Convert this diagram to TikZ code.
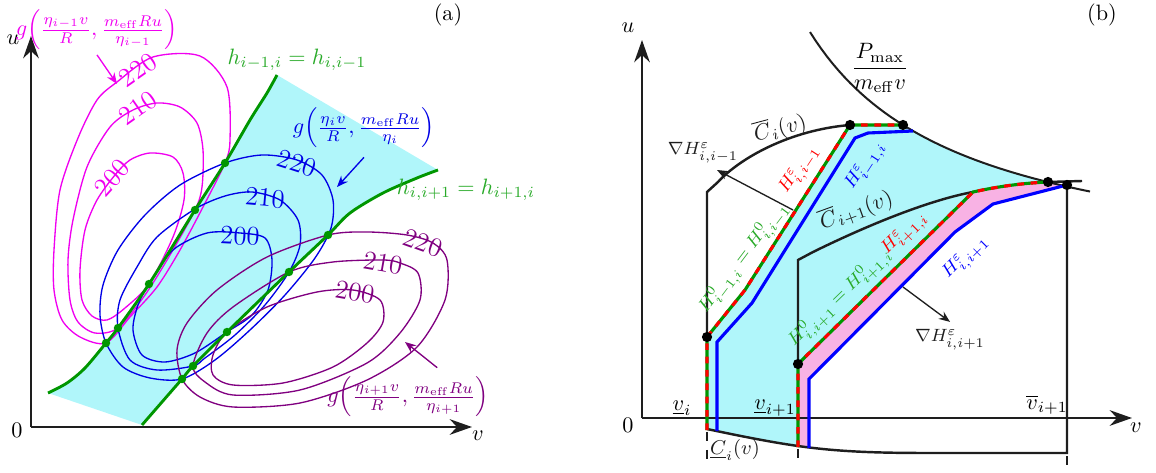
\documentclass[tikz,border=0pt]{standalone}
\usepackage{amsmath,amssymb}
\usepackage{xcolor}
\usepackage{tikz}
\usetikzlibrary{arrows.meta,positioning}
\definecolor{regcyan}{RGB}{176,246,250}
\definecolor{regpink}{RGB}{248,178,228}
\definecolor{hgreen}{RGB}{0,150,0}
\definecolor{lblgreen}{RGB}{40,170,40}
\definecolor{gmag}{RGB}{240,0,240}
\definecolor{gblue}{RGB}{0,0,230}
\definecolor{gpurp}{RGB}{128,0,128}
\definecolor{axgray}{RGB}{30,30,30}

\begin{document}
\begin{tikzpicture}[
  x=0.45pt, y=-0.45pt,
  axis/.style={-{Stealth[length=10pt,width=7pt]}, line width=1.2pt, draw=axgray},
  contour/.style={line width=0.6pt},
  hcurve/.style={draw=hgreen, line width=1.3pt},
  gdot/.style={circle, fill=hgreen, inner sep=0pt, minimum size=3.8pt},
  bdot/.style={circle, fill=black, inner sep=0pt, minimum size=4.6pt},
  annot/.style={-{Stealth[length=5pt,width=4pt]}, line width=0.6pt},
  bound/.style={draw=axgray, line width=1.1pt},
  hzero/.style={draw=hgreen, line width=1.4pt,
                postaction={draw=red, dash pattern=on 3pt off 3pt}},
  heps/.style={draw=blue, line width=1.4pt},
  lvl/.style={font=\large, inner sep=0pt},
  hlbl/.style={font=\footnotesize, inner sep=0pt},
  gradlbl/.style={font=\footnotesize, text=axgray},
  glbl/.style={inner sep=0pt}
]
\useasboundingbox (0,0) rectangle (1156,473);

% ---- panel (a)
\fill[regcyan] plot[smooth] coordinates {(48,393) (67,383) (85,368) (106,343) (118,328) (149,284) (195,210) (225,163) (250,120) (267,93) (277,75)}
  -- plot[smooth] coordinates {(438,170) (417,178) (383,193) (350,213) (328,235) (289,272) (227,332) (193,366) (182,379) (162,402) (142,425)} -- cycle;

\draw[contour, gmag] plot[smooth cycle] coordinates {(117,82) (153,57) (200,56) (227,87) (230,140) (225,163) (203,207) (180,250) (157,287) (130,317) (106,343) (80,337) (62,320) (54,290) (54,250) (60,190) (78,138) (97,100)};
\draw[contour, gmag] plot[smooth cycle] coordinates {(195,210) (170,255) (145,295) (118,328) (95,333) (78,322) (70,300) (68,260) (73,220) (87,167) (110,127) (133,110) (157,103) (180,107) (197,123) (203,150) (202,187)};
\draw[contour, gmag] plot[smooth cycle] coordinates {(150,153) (173,157) (183,173) (184,200) (173,237) (149,284) (125,308) (107,320) (92,316) (82,300) (80,270) (85,230) (97,200) (115,175) (130,160)};

\draw[contour, gblue] plot[smooth cycle] coordinates {(225,163) (262,155) (297,160) (322,175) (333,200) (331,228) (315,258) (285,295) (250,330) (215,360) (182,379) (150,378) (123,367) (106,343) (100,315) (103,285) (118,250) (145,215) (180,185)};
\draw[contour, gblue] plot[smooth cycle] coordinates {(195,209) (225,196) (252,192) (280,200) (298,220) (300,245) (289,272) (265,305) (235,335) (205,358) (193,366) (157,370) (130,360) (118,328) (120,300) (137,267) (157,237)};
\draw[contour, gblue] plot[smooth cycle] coordinates {(149,284) (173,250) (207,233) (240,233) (265,238) (272,260) (268,290) (252,315) (227,332) (195,353) (165,362) (142,355) (133,330) (138,305)};

\draw[contour, gpurp] plot[smooth cycle] coordinates {(182,379) (200,397) (233,407) (300,403) (367,380) (417,347) (445,300) (447,260) (433,243) (407,235) (367,232) (328,235) (267,257) (217,290) (187,323) (177,350)};
\draw[contour, gpurp] plot[smooth cycle] coordinates {(193,366) (205,382) (233,395) (300,390) (367,363) (400,333) (420,300) (418,273) (400,263) (383,260) (333,262) (289,272) (233,307) (207,333)};
\draw[contour, gpurp] plot[smooth cycle] coordinates {(227,332) (267,307) (317,292) (353,290) (380,300) (383,322) (367,343) (333,367) (283,383) (233,385) (213,375) (213,355)};

\node[lvl, text=gmag, rotate=35] (m220) at (138,70) {220};
\node[lvl, text=gmag, rotate=35] (m210) at (138,108) {210};
\node[lvl, text=gmag, rotate=48] (m200) at (112,178) {200};
\node[lvl, text=gblue, rotate=-18] (b220) at (297,163) {220};
\node[lvl, text=gblue, rotate=-5] (b210) at (265,198) {210};
\node[lvl, text=gblue, rotate=-3] (b200) at (240,236) {200};
\node[lvl, text=gpurp, rotate=-20] (p220) at (423,243) {220};
\node[lvl, text=gpurp, rotate=-10] (p210) at (383,263) {210};
\node[lvl, text=gpurp, rotate=-10] (p200) at (355,292) {200};

\draw[hcurve] plot[smooth] coordinates {(48,393) (67,383) (85,368) (106,343) (118,328) (149,284) (195,210) (225,163) (250,120) (267,93) (277,75)};
\draw[hcurve] plot[smooth] coordinates {(142,425) (162,402) (182,379) (193,366) (227,332) (289,272) (328,235) (350,213) (383,193) (417,178) (438,170)};

\node[gdot] (l1) at (106,343) {};
\node[gdot] (l2) at (118,328) {};
\node[gdot] (l3) at (149,284) {};
\node[gdot] (l4) at (195,210) {};
\node[gdot] (l5) at (225,163) {};
\node[gdot] (r1) at (182,379) {};
\node[gdot] (r2) at (193,366) {};
\node[gdot] (r3) at (227,332) {};
\node[gdot] (r4) at (289,272) {};
\node[gdot] (r5) at (328,235) {};

\coordinate (Oa) at (31,427);
\coordinate (ua) at (31,36);
\coordinate (va) at (472,427);
\draw[axis] (Oa) -- (ua);
\draw[axis] (Oa) -- (va);
\node (ulbla) at (13,40) {$u$};
\node (vlbla) at (478,436) {$v$};
\node (zeroa) at (17,430) {$0$};
\node (taga) at (448,15) {(a)};

\node[text=lblgreen] (hleft) at (297,60) {$h_{i-1,i}=h_{i,i-1}$};
\node[text=lblgreen] (hright) at (466,190) {$h_{i,i+1}=h_{i+1,i}$};

\node[glbl, text=gmag] (gm) at (97,30) {$g\Bigl(\frac{\eta_{i-1}v}{R},\frac{m_{\mathrm{eff}}Ru}{\eta_{i-1}}\Bigr)$};
\coordinate (gmtip) at (117,84);
\draw[annot, gmag] ([yshift=-2pt]gm.south) -- (gmtip);
\node[glbl, text=gblue] (gb) at (364,128) {$g\Bigl(\frac{\eta_{i}v}{R},\frac{m_{\mathrm{eff}}Ru}{\eta_{i}}\Bigr)$};
\coordinate (gbtip) at (337,187);
\draw[annot, gblue] ([yshift=-4pt]gb.south) -- (gbtip);
\node[glbl, text=gpurp] (gp) at (408,397) {$g\Bigl(\frac{\eta_{i+1}v}{R},\frac{m_{\mathrm{eff}}Ru}{\eta_{i+1}}\Bigr)$};
\coordinate (gptip) at (405,342);
\draw[annot, gpurp] ([yshift=4pt]gp.35) -- (gptip);

% ---- panel (b)
\coordinate (pA) at (707,337);
\coordinate (pB) at (850,125);
\coordinate (pC) at (903,125);
\coordinate (pD) at (798,364);
\coordinate (pE) at (1048,182);
\coordinate (pF) at (1067,185);

\fill[regcyan] (707,429) -- (pA) -- (745,290) -- (pB) -- (pC)
  -- plot[domain=903:1048, samples=30] (\x, {279.8-384/((\x-655)/100)})
  .. controls (1025,183) and (1000,186) .. (973,192) -- (pD) -- (798,446)
  .. controls (770,442) and (740,436) .. (707,429) -- cycle;
\fill[regpink] (798,446) -- (pD) -- (973,192) .. controls (1000,186) and (1025,183) .. (pE)
  -- (pF) -- (993,204) -- (955,232) -- (809,379) -- (809,448) -- cycle;

\coordinate (Ob) at (642,418);
\coordinate (ub) at (642,40);
\coordinate (vb) at (1132,418);
\draw[axis] (Ob) -- (ub);
\draw[axis] (Ob) -- (vb);
\node (ulblb) at (628,28) {$u$};
\node (vlblb) at (1136,428) {$v$};
\node (zerob) at (628,425) {$0$};
\node (tagb) at (1102,15) {(b)};

\draw[bound, line width=0.9pt] plot[domain=810:1090, samples=50] (\x, {279.8-384/((\x-655)/100)});
\draw[bound] (pA) -- (707,192) -- (718,182) .. controls (740,158) and (790,130) .. (pB);
\draw[bound] (pD) -- (798,260) -- (813,252) .. controls (870,224) and (930,200) .. (973,192);
\draw[bound] (pE) -- (1082,181);
\draw[bound] (707,429) .. controls (740,436) and (770,442) .. (798,446)
  .. controls (840,452) and (880,453) .. (930,453) -- (1067,453) -- (pF);
\draw[bound, dash pattern=on 4pt off 4pt] (707,432) -- (707,462);
\draw[bound, dash pattern=on 4pt off 4pt] (798,449) -- (798,465);
\draw[bound, dash pattern=on 4pt off 4pt] (1067,456) -- (1067,470);

\draw[heps] (717,431) -- (717,342) -- (752,303) -- (855,138) -- (868,133) -- (913,131);
\draw[heps] (809,448) -- (809,379) -- (955,232) -- (993,204) -- (pF);
\draw[hzero] (707,430) -- (pA) -- (745,290) -- (pB) -- (pC);
\draw[hzero] (798,447) -- (pD) -- (973,192) .. controls (1000,186) and (1025,183) .. (pE);

\node[bdot] (dA) at (pA) {};
\node[bdot] (dB) at (pB) {};
\node[bdot] (dC) at (pC) {};
\node[bdot] (dD) at (pD) {};
\node[bdot] (dE) at (pE) {};
\node[bdot] (dF) at (pF) {};

\node (pmax) at (880,68) {$\dfrac{P_{\max}}{m_{\mathrm{eff}}v}$};
\node[rotate=15, text=axgray] (cbari) at (780,128) {$\overline{C}_i(v)$};
\node[rotate=20, text=axgray] (cbarj) at (856,210) {$\overline{C}_{i+1}(v)$};
\node[font=\small, text=axgray] (cund) at (735,450) {$\underline{C}_i(v)$};
\node (vi) at (682,408) {$\underline{v}_i$};
\node (vj) at (775,408) {$\underline{v}_{i+1}$};
\node (vbar) at (1047,405) {$\overline{v}_{i+1}$};

\node[hlbl, text=red, rotate=57] (hre1) at (800,170) {$H^{\varepsilon}_{i,i-1}$};
\node[hlbl, text=blue, rotate=57] (hbe1) at (866,166) {$H^{\varepsilon}_{i-1,i}$};
\node[hlbl, text=lblgreen, rotate=53] (hg1) at (744,258) {$H^{0}_{i-1,i}=H^{0}_{i,i-1}$};
\node[hlbl, text=red, rotate=45] (hre2) at (905,234) {$H^{\varepsilon}_{i+1,i}$};
\node[hlbl, text=blue, rotate=45] (hbe2) at (966,258) {$H^{\varepsilon}_{i,i+1}$};
\node[hlbl, text=lblgreen, rotate=44] (hg2) at (840,298) {$H^{0}_{i,i+1}=H^{0}_{i+1,i}$};

\node[gradlbl] (grad1) at (703,153) {$\nabla H^{\varepsilon}_{i,i-1}$};
\coordinate (g1from) at (793,210);
\coordinate (g1tip) at (717,170);
\draw[annot, axgray] (g1from) -- (g1tip);
\node[gradlbl] (grad2) at (950,340) {$\nabla H^{\varepsilon}_{i,i+1}$};
\coordinate (g2from) at (903,287);
\draw[annot, axgray] (g2from) -- (grad2.north);
\end{tikzpicture}
\end{document}
